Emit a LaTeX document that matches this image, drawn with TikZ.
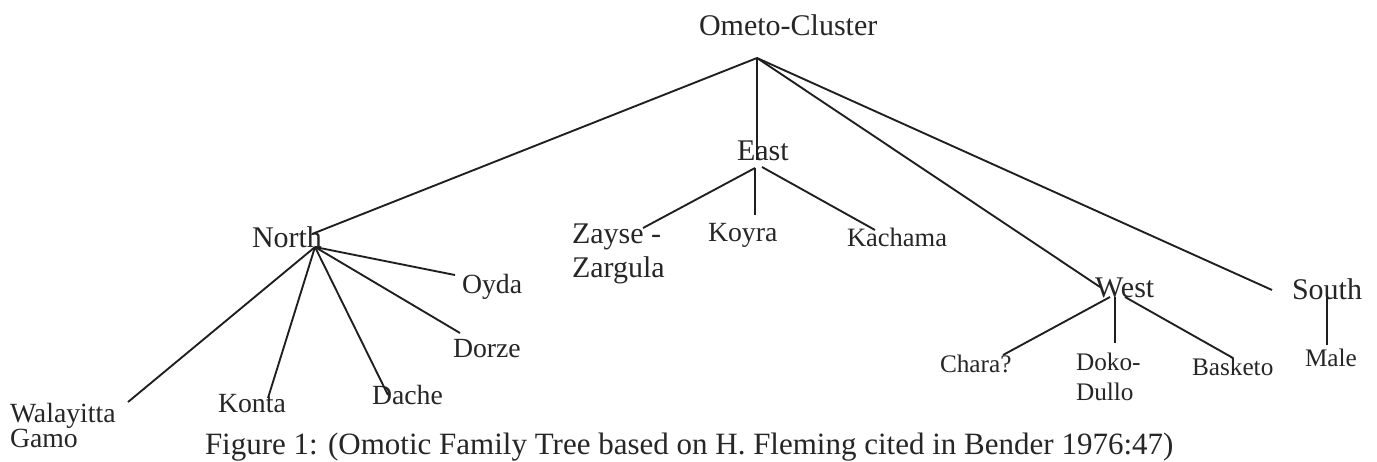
\documentclass[tikz,border=0pt]{standalone}
\usepackage{fontspec}
\setmainfont{Liberation Serif}
\begin{document}
\begin{tikzpicture}[x=0.4pt,y=-0.4pt,
  lbl/.style={anchor=base west,inner sep=0pt,outer sep=0pt,text=black!85},
  big/.style={lbl,font=\fontsize{12}{13.8}\selectfont},
  mid/.style={lbl,font=\fontsize{11.1}{13}\selectfont},
  small/.style={lbl,font=\fontsize{10.1}{12}\selectfont},
  branch/.style={draw=black!88,line width=0.75pt}]
\useasboundingbox[fill=white] (0,0) rectangle (1377,461);

% labels
\node[big] (ometo) at (699,35) {Ometo-Cluster};
\node[big] (north) at (252,247) {North};
\node[big] (east) at (737,160) {East};
\node[big] (west) at (1095,297) {West};
\node[big] (south) at (1292,299) {South};
\node[big] (zayse) at (572,243) {Zayse -};
\node[big] (zargula) at (572,277) {Zargula};
\node[mid] (koyra) at (708,241) {Koyra};
\node[lbl,font=\fontsize{10.6}{12}\selectfont] (kachama) at (847,246) {Kachama};
\node[mid] (oyda) at (462,293) {Oyda};
\node[mid] (dorze) at (453,357) {Dorze};
\node[mid] (walayitta) at (10,422) {Walayitta};
\node[mid] (gamo) at (10,447) {Gamo};
\node[mid] (konta) at (218,412) {Konta};
\node[mid] (dache) at (372,404) {Dache};
\node[small] (chara) at (940,372) {Chara?};
\node[small] (doko) at (1076,370) {Doko-};
\node[small] (dullo) at (1076,400) {Dullo};
\node[small] (basketo) at (1192,375) {Basketo};
\node[small] (male) at (1305,366) {Male};
\node[lbl,font=\fontsize{12.4}{14}\selectfont] (caption) at (205,454)
  {Figure 1: (Omotic Family Tree based on H. Fleming cited in Bender 1976:47)};

% connection points
\coordinate (root) at (757,58);
\coordinate (northtop) at (312,234);
\coordinate (easttop) at (757,160);
\coordinate (westtop) at (1100,287);
\coordinate (southtop) at (1272,290);
\coordinate (northhub) at (315,247);
\coordinate (walend) at (128,402);
\coordinate (kontaend) at (268,398);
\coordinate (dacheend) at (388,395);
\coordinate (dorzeend) at (460,333);
\coordinate (oydaend) at (455,275);
\coordinate (easthub) at (755,168);
\coordinate (easthubr) at (762,167);
\coordinate (zayseend) at (643,228);
\coordinate (koyraend) at (755,215);
\coordinate (kachamaend) at (875,230);
\coordinate (westhubl) at (1110,297);
\coordinate (westhub) at (1115,297);
\coordinate (westhubr) at (1125,297);
\coordinate (charaend) at (1003,355);
\coordinate (dokoend) at (1115,343);
\coordinate (basketoend) at (1233,358);
\coordinate (southhub) at (1327,295);
\coordinate (maleend) at (1327,345);

% connectors
\draw[branch] (root) -- (northtop);
\draw[branch] (root) -- (easttop);
\draw[branch] (root) -- (westtop);
\draw[branch] (root) -- (southtop);
\draw[branch] (northhub) -- (walend);
\draw[branch] (northhub) -- (kontaend);
\draw[branch] (northhub) -- (dacheend);
\draw[branch] (northhub) -- (dorzeend);
\draw[branch] (northhub) -- (oydaend);
\draw[branch] (easthub) -- (zayseend);
\draw[branch] (easthub) -- (koyraend);
\draw[branch] (easthubr) -- (kachamaend);
\draw[branch] (westhubl) -- (charaend);
\draw[branch] (westhub) -- (dokoend);
\draw[branch] (westhubr) -- (basketoend);
\draw[branch] (southhub) -- (maleend);
\end{tikzpicture}
\end{document}
